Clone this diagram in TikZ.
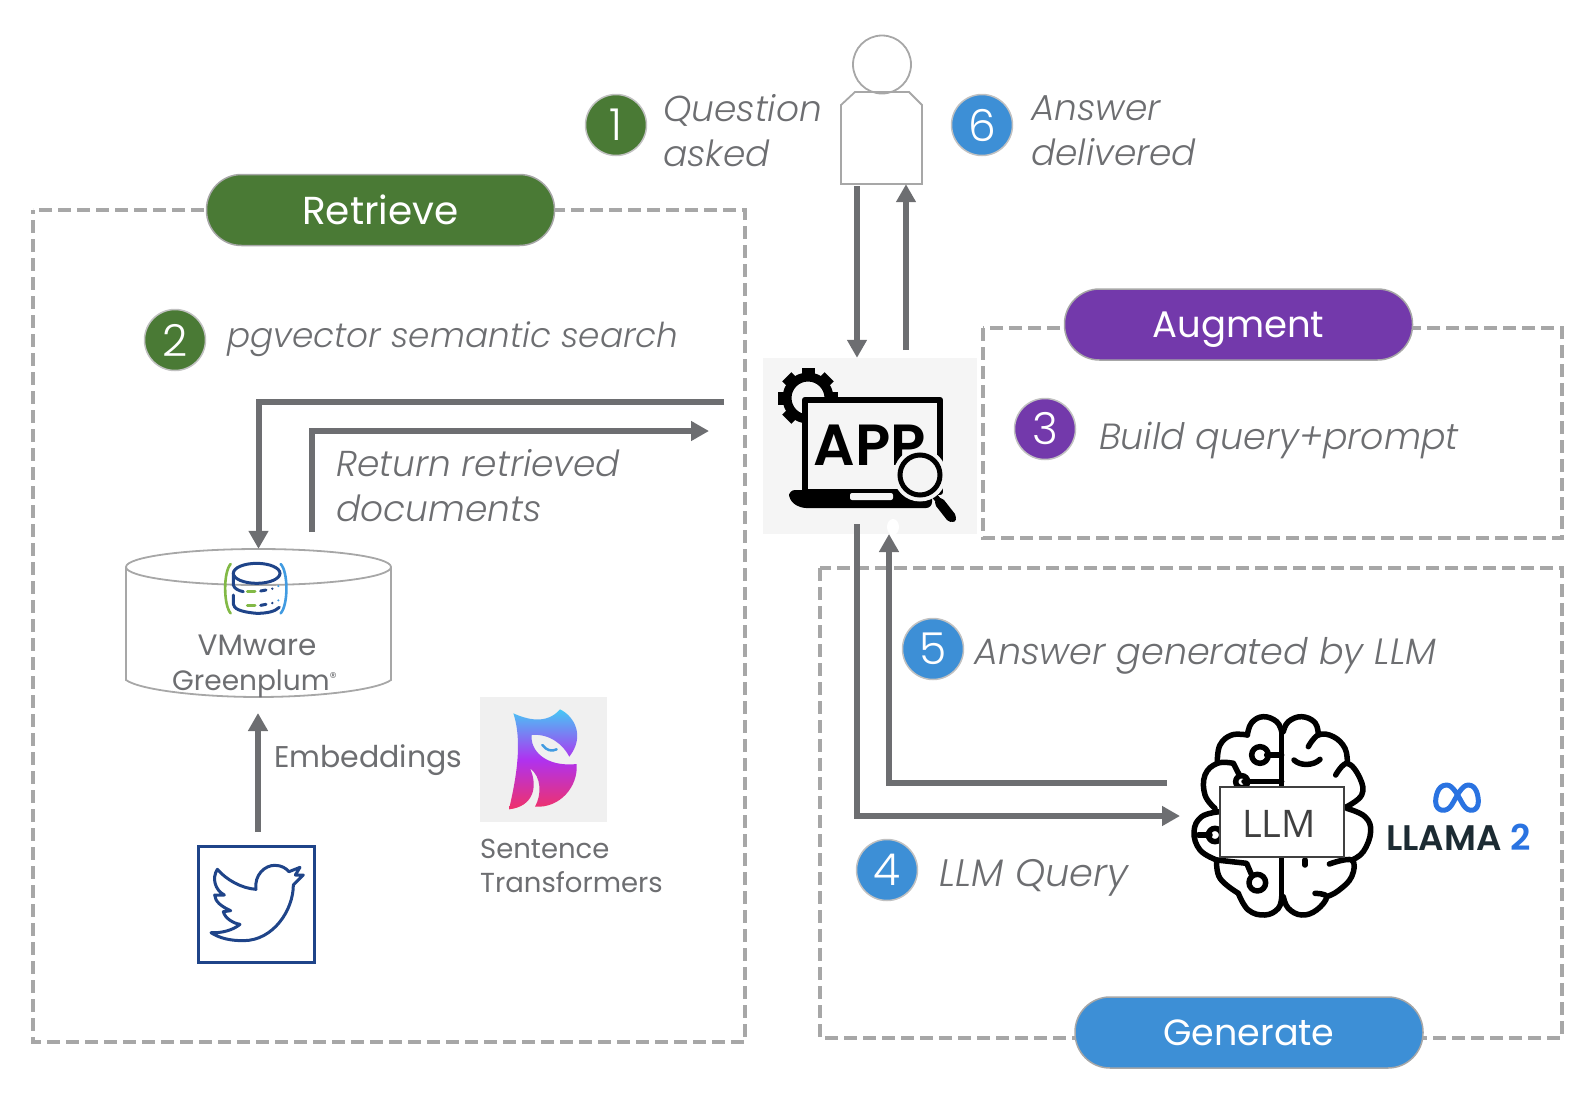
\documentclass[tikz,border=0pt]{standalone}
\usepackage{fontspec}
\setmainfont{Poppins}[UprightFont=* Light, ItalicFont=* Light Italic, BoldFont=* SemiBold]
\newfontfamily\titlefont{Poppins}
\newfontfamily\llmfont{Open Sans}
\usetikzlibrary{positioning,arrows.meta,shapes.geometric,calc}
\definecolor{flowgray}{RGB}{109, 110, 113}
\definecolor{linegray}{RGB}{167, 167, 167}
\definecolor{retrievegreen}{RGB}{74, 122, 53}
\definecolor{augmentpurple}{RGB}{115, 57, 171}
\definecolor{generateblue}{RGB}{61, 143, 214}
\definecolor{twitterblue}{RGB}{31, 68, 137}
\definecolor{llamadark}{RGB}{28, 43, 51}
\definecolor{metablue}{RGB}{42, 115, 225}
\definecolor{dbgreen}{RGB}{130, 185, 70}
\definecolor{dbblue}{RGB}{65, 155, 225}
\definecolor{owlcyan}{RGB}{70, 200, 245}
\definecolor{owlpurple}{RGB}{175, 50, 240}
\definecolor{owlred}{RGB}{240, 50, 105}
\tikzset{
    gearpic/.pic={
        % Teeth
        \foreach \a in {0,45,...,315} {
            \fill[black, rotate=\a] (-6.5,-30) rectangle (6.5,-20);
        }
        % Ring
        \draw[black, line width=9pt] (0,0) circle (21);
    }
}

\begin{document}
\begin{tikzpicture}[
    x=1pt, y=-1pt,
    >=Stealth,
    % Connector styles
    flow/.style={
        draw=flowgray,
        line width=6pt,
        -{Triangle[length=18pt,width=19pt]}
    },
    groupbox/.style={
        draw=linegray,
        line width=3.5pt,
        dash pattern=on 13pt off 6pt
    },
    pill/.style={
        rounded corners=35pt,
        draw=linegray,
        line width=1.5pt,
        minimum width=348pt,
        minimum height=71pt,
        text=white,
        font=\titlefont\fontsize{#1}{#1}\selectfont
    },
    stepmark/.style={
        circle,
        draw=linegray!70,
        line width=1.5pt,
        minimum size=61pt,
        inner sep=0pt,
        text=white,
        font=\fontsize{44}{44}\selectfont
    },
    note/.style={
        anchor=west,
        align=left,
        inner sep=0pt,
        text=flowgray,
        font=\fontsize{#1}{45}\selectfont\itshape
    },
    note/.default=36,
    logotext/.style={
        anchor=west,
        align=left,
        inner sep=0pt,
        text=flowgray,
        font=\titlefont\fontsize{#1}{#1}\selectfont
    },
    outline/.style={
        draw=linegray,
        line width=1.8pt
    },
    brainline/.style={
        draw=black,
        line width=5.5pt,
        line cap=round,
        line join=round
    }
]
    \useasboundingbox (0,0) rectangle (1588,1100);

    % =========================================================================
    % 1. GROUP BOXES AND THEIR TITLES
    % =========================================================================
    \draw[groupbox, dash phase=9pt] (33,210) rectangle (745,1042);
    \draw[groupbox] (983,328) rectangle (1562,538);
    \draw[groupbox] (820,568) rectangle (1562,1038);

    \node[pill=39, fill=retrievegreen] (retrieve) at (380.5,210) {Retrieve};
    \node[pill=37, fill=augmentpurple, text depth=0pt] (augment) at (1238.5,324.5) {Augment};
    \node[pill=36.5, fill=generateblue] (generate) at (1249,1032.5) {Generate};

    % =========================================================================
    % 2. USER
    % =========================================================================
    \draw[outline] (882,64.5) circle (29);
    \node[minimum width=81pt, minimum height=92pt, inner sep=0pt] (userbox) at (881.5,138) {};
    \draw[outline] (841,184) -- (841,105) -- (855,92) -- (909,92) -- (922,105) -- (922,184) -- cycle;

    % =========================================================================
    % 3. APP
    % =========================================================================
    \node[fill=black!4, minimum width=214pt, minimum height=176pt, inner sep=0pt] (appbox) at (870,446) {};
    \pic at (808,398) {gearpic};
    % Screen
    \draw[black, fill=black!4, line width=6.5pt, line join=round] (805,400) rectangle (940,492);
    % Base
    \fill[black, rounded corners=6pt] (789,490) -- (932,490) -- (932,508) -- (800,508) -- (789,500) -- cycle;
    \fill[black!4, rounded corners=2pt] (850,493) rectangle (893,500);
    \node[inner sep=0pt, font=\fontsize{58}{58}\selectfont\bfseries] (apptext) at (870,445) {APP};
    % Magnifier
    \draw[black, line width=6pt, line cap=round] (930,490) -- (953,519);
    \draw[black, line width=10pt, line cap=round] (940,503) -- (951,517);
    \draw[black!4, line width=3pt, fill=black!4] (920,475) circle (25);
    \draw[black, line width=5pt] (920,475) circle (20);
    \fill[white] (893,527) ellipse (6 and 8);

    % =========================================================================
    % 4. VECTOR DATABASE
    % =========================================================================
    \node[minimum width=265pt, minimum height=148pt, inner sep=0pt] (dbbox) at (258.5,623) {};
    \draw[outline] (126,567) -- (126,680) .. controls (140,690) and (200,697) .. (258.5,697)
        .. controls (317,697) and (377,690) .. (391,680) -- (391,567);
    \draw[outline] (258.5,567) ellipse (132.5 and 18);
    \begin{scope}[shift={(110,530)}, scale=1/3]
        % Brackets
        \draw[dbgreen, line width=2.6pt, line cap=round] (362,102) .. controls (340,125) and (340,225) .. (362,250);
        \draw[dbblue, line width=2.6pt, line cap=round] (512,102) .. controls (535,125) and (535,225) .. (512,250);
        % Stack
        \draw[twitterblue, line width=3pt] (440,130) ellipse (70 and 30);
        \draw[twitterblue, line width=3pt, line cap=round] (370,130) -- (370,165) .. controls (372,175) and (385,182) .. (400,185);
        \draw[twitterblue, line width=3pt, line cap=round] (370,195) -- (370,222) .. controls (372,235) and (385,245) .. (440,250) .. controls (470,250) and (495,245) .. (508,232);
        \foreach \y in {0,43} {
            \draw[dbgreen, line width=3pt, line cap=round] (412,183+\y) -- (435,183+\y);
            \draw[twitterblue, line width=3pt, line cap=round] (452,183+\y) -- (468,180+\y);
            \fill[twitterblue] (487,176+\y) circle (4);
            \fill[dbblue] (505,168+\y) circle (3.5);
        }
    \end{scope}
    \node[logotext=29.5, anchor=base] (vmware) at (257,655) {VMware};
    \node[logotext=28, anchor=base west] (greenplum) at (172,690) {Greenplum\raisebox{8pt}{\fontsize{14}{14}\selectfont ®}};

    % =========================================================================
    % 5. SOURCES
    % =========================================================================
    \node[draw=twitterblue, line width=3pt, minimum size=116pt, inner sep=0pt] (twitterbox) at (256.5,904.5) {};
    \begin{scope}[shift={(180,680)}, scale=1/3]
        \draw[twitterblue, line width=3pt, line join=round, fill=white]
            (112,568) .. controls (140,600) and (185,625) .. (228,628)
            .. controls (222,585) and (255,555) .. (285,556)
            .. controls (305,556) and (318,565) .. (327,575)
            -- (360,562) -- (346,585) -- (370,585) -- (340,615)
            .. controls (340,690) and (280,782) .. (190,782)
            .. controls (150,782) and (120,775) .. (93,758)
            .. controls (125,760) and (160,750) .. (180,733)
            .. controls (160,730) and (135,715) .. (130,695)
            -- (152,692)
            .. controls (125,680) and (105,665) .. (104,645)
            -- (133,645)
            .. controls (105,630) and (95,595) .. (112,568) -- cycle;
    \end{scope}
    \node[fill=black!6, minimum width=127pt, minimum height=125pt, inner sep=0pt] (owlbox) at (543.5,759.5) {};
    \begin{scope}[shift={(180,680)}, scale=1/3]
        \shade[top color=owlcyan, bottom color=owlred, middle color=owlpurple]
            (1000,100) .. controls (1040,118) and (1100,135) .. (1140,88)
            .. controls (1185,110) and (1215,170) .. (1168,230)
            .. controls (1150,195) and (1110,160) .. (1055,165)
            .. controls (1050,210) and (1095,262) .. (1190,252)
            .. controls (1195,320) and (1140,385) .. (1065,380)
            .. controls (1085,345) and (1085,290) .. (1050,265)
            .. controls (1075,320) and (1060,380) .. (987,388)
            .. controls (1005,310) and (1030,190) .. (1000,100) -- cycle;
        \draw[dbblue, line width=2.5pt, line cap=round] (1087,195) .. controls (1100,212) and (1115,215) .. (1130,208);
    \end{scope}
    \node[logotext=30] (embeddings) at (274,760) {Embeddings};
    \node[logotext=27.5, anchor=base west] (sentence) at (480,858) {Sentence};
    \node[logotext=27.5, anchor=base west] (transformers) at (480,892) {Transformers};

    % =========================================================================
    % 6. LLM
    % =========================================================================
    \begin{scope}[shift={(1170,700)}, scale=1/3]
        % Left half
        \draw[brainline] plot[smooth, tension=0.7] coordinates {(335,95) (320,65) (280,50) (245,68) (232,105)};
        \draw[brainline] plot[smooth, tension=0.7] coordinates {(232,105) (185,105) (150,135) (142,185)};
        \draw[brainline] plot[smooth, tension=0.7] coordinates {(190,190) (142,190) (105,225) (105,285) (135,325)};
        \draw[brainline] plot[smooth, tension=0.7] coordinates {(150,335) (95,350) (72,395) (90,450) (140,480)};
        \draw[brainline] plot[smooth, tension=0.7] coordinates {(140,480) (150,535) (205,580)};
        \draw[brainline] plot[smooth, tension=0.7] coordinates {(205,580) (235,630) (285,645) (325,625) (335,590)};
        % Right half
        \draw[brainline] plot[smooth, tension=0.7] coordinates {(340,95) (355,65) (395,50) (435,68) (445,105)};
        \draw[brainline] plot[smooth, tension=0.7] coordinates {(415,140) (445,105) (490,110) (525,145) (532,190)};
        \draw[brainline] plot[smooth, tension=0.7] coordinates {(497,225) (532,190) (570,235) (575,285) (530,320)};
        \draw[brainline] plot[smooth, tension=0.7] coordinates {(530,325) (585,350) (602,395) (580,455) (545,480)};
        \draw[brainline] plot[smooth, tension=0.7] coordinates {(478,492) (545,480) (545,530) (505,572) (470,590)};
        \draw[brainline] plot[smooth, tension=0.7] coordinates {(435,580) (470,590) (440,630) (395,645) (355,625) (340,590)};
        % Middle line and inner marks
        \draw[brainline] (335,95) -- (335,600);
        \draw[brainline] (222,245) -- (335,245);
        \draw[brainline] (290,165) -- (335,165);
        \draw[brainline] (270,165) circle (25);
        \draw[brainline] (215,245) circle (18);
        \draw[brainline] (190,190) -- (208,225);
        \draw[brainline] (372,180) .. controls (390,198) and (430,198) .. (450,178);
        \draw[brainline] (85,405) -- (120,405);
        \draw[brainline] (135,405) circle (20);
        \draw[brainline] (140,480) -- (230,490) -- (245,525);
        \draw[brainline] (262,548) circle (25);
        \draw[brainline] (405,480) -- (405,495);
    \end{scope}
    \node[draw=black!75, fill=white, line width=1.5pt, minimum width=124pt, minimum height=70pt, inner sep=0pt,
        text=black!75, text height=31pt, text depth=0pt, font=\llmfont\fontsize{38}{38}\selectfont] (llmbox) at (1282,822) {\hspace*{-6pt}LLM};
    % Meta mark
    \begin{scope}[shift={(1170,700)}, scale=1/3]
        \draw[metablue, line width=5pt, line join=round]
            (830,255) .. controls (800,255) and (797,295) .. (797,305)
            .. controls (797,335) and (830,340) .. (845,315)
            .. controls (860,290) and (875,255) .. (895,255)
            .. controls (920,255) and (925,290) .. (925,305)
            .. controls (925,335) and (895,340) .. (880,315)
            .. controls (865,290) and (850,255) .. (830,255) -- cycle;
    \end{scope}
    \node[anchor=base west, inner sep=0pt, font=\fontsize{35.5}{35.5}\selectfont\bfseries, text=llamadark] (llama) at (1386,850)
        {LLAMA \textcolor{metablue}{2}};

    % =========================================================================
    % 7. NUMBERED STEPS AND THEIR NOTES
    % =========================================================================
    \node[stepmark, fill=retrievegreen] (step1) at (616,125) {1};
    \node[note] (asked) at (663,131) {Question\\asked};
    \node[stepmark, fill=generateblue] (step6) at (982,125) {6};
    \node[note] (delivered) at (1031,131) {Answer\\delivered};
    \node[stepmark, fill=retrievegreen] (step2) at (175,340) {2};
    \node[note=34.3] (search) at (227,339) {pgvector semantic search};
    \node[stepmark, fill=augmentpurple] (step3) at (1045,429) {3};
    \node[note=36.4] (prompt) at (1099,441) {Build query+prompt};
    \node[stepmark, fill=generateblue] (step5) at (933,649) {5};
    \node[note=36.6] (generated) at (974,656) {Answer generated by LLM};
    \node[stepmark, fill=generateblue] (step4) at (887,870) {4};
    \node[note=38.3] (query) at (939,878) {LLM Query};
    \node[note] (returned) at (336,486) {Return retrieved\\documents};

    % =========================================================================
    % 8. CONNECTORS
    % =========================================================================
    \coordinate (askout) at (857,186);
    \coordinate (replyout) at (906,350);
    \coordinate (queryout) at (724,402);
    \coordinate (returnout) at (312,532);
    \coordinate (returnin) at (709,431);
    \coordinate (embedout) at (258,832);
    \coordinate (embedin) at (258,713);
    \coordinate (appdown) at (857,524);
    \coordinate (llmin) at (1180,816);
    \coordinate (llmout) at (1167,783);
    \coordinate (appup) at (889,534);

    \draw[flow] (askout) -- (askout |- appbox.north);
    \draw[flow] (replyout) -- (replyout |- userbox.south);
    \draw[flow] (queryout) -| (dbbox.north);
    \draw[flow] (returnout) |- (returnin);
    \draw[flow] (embedout) -- (embedin);
    \draw[flow] (appdown) |- (llmin);
    \draw[flow] (llmout) -| (appup);

\end{tikzpicture}
\end{document}
